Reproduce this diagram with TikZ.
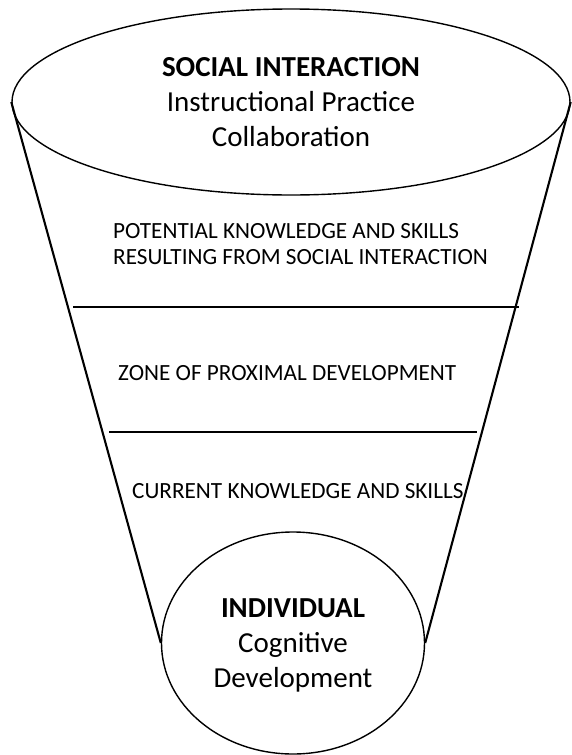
\documentclass[tikz,border=0pt]{standalone}
\usepackage{fontspec}
\setmainfont{Carlito}
\usetikzlibrary{shapes.geometric}
\tikzset{
  rim/.style={draw,ellipse,line width=1.4pt,inner sep=0pt,align=center,font=\fontsize{29}{35}\selectfont},
  zone/.style={anchor=west,align=left,inner sep=0pt,font=\fontsize{23.2}{25.5}\selectfont},
  side/.style={line width=2.1pt}
}
\begin{document}
\begin{tikzpicture}[x=1pt,y=-1pt]
  \useasboundingbox (0,0) rectangle (571,755);
  \node[rim,minimum width=558pt,minimum height=186pt] (social) at (291,102) {\textbf{SOCIAL INTERACTION}\\Instructional Practice\\Collaboration};
  \node[rim,minimum width=263pt,minimum height=222pt,text depth=-5pt] (individual) at (293,643) {\textbf{INDIVIDUAL}\\Cognitive\\Development};
  \draw[side] (social.west) -- (individual.west); \draw[side] (social.east) -- (individual.east);
  \foreach \y/\a/\b in {307/73/519,432/109/477} \draw[line width=2.5pt] (\a,\y) -- (\b,\y);
  \node[zone] (potential) at (113,244) {POTENTIAL KNOWLEDGE AND SKILLS\\RESULTING FROM SOCIAL INTERACTION};
  \node[zone] (zpd) at (118,373) {ZONE OF PROXIMAL DEVELOPMENT};
  \node[zone] (current) at (132,491) {CURRENT KNOWLEDGE AND SKILLS};
\end{tikzpicture}
\end{document}
